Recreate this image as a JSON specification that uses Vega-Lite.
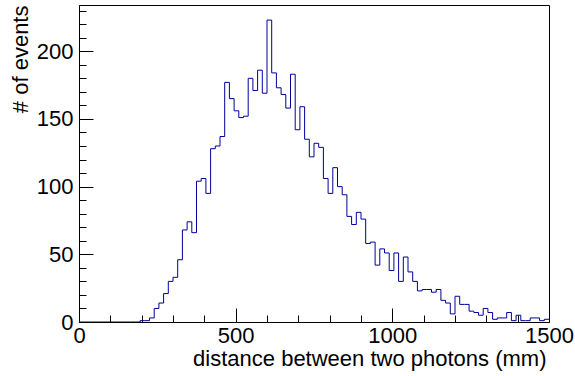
{
  "$schema": "https://vega.github.io/schema/vega-lite/v6.json",
  "width": 470,
  "height": 317,
  "autosize": {"type": "none"},
  "padding": {"left": 79, "top": 5, "right": 26, "bottom": 54},
  "background": "white",
  "config": {
    "view": {"stroke": "black", "strokeWidth": 1},
    "font": "Liberation Sans",
    "axis": {
      "labelFont": "Liberation Sans",
      "titleFont": "Liberation Sans",
      "labelFontSize": 22,
      "titleFontSize": 22,
      "titleFontWeight": "normal",
      "labelColor": "black",
      "titleColor": "black",
      "domainColor": "black",
      "tickColor": "black",
      "grid": false
    }
  },
  "data": {
    "values": [
      {"x": 0, "n": 0}, {"x": 15, "n": 0}, {"x": 30, "n": 0}, {"x": 45, "n": 0}, {"x": 60, "n": 0},
      {"x": 75, "n": 0}, {"x": 90, "n": 0}, {"x": 105, "n": 0}, {"x": 120, "n": 0}, {"x": 135, "n": 0},
      {"x": 150, "n": 0}, {"x": 165, "n": 0}, {"x": 180, "n": 0}, {"x": 195, "n": 1}, {"x": 210, "n": 1},
      {"x": 225, "n": 3}, {"x": 240, "n": 10}, {"x": 255, "n": 14}, {"x": 270, "n": 21}, {"x": 285, "n": 30},
      {"x": 300, "n": 33}, {"x": 315, "n": 46}, {"x": 330, "n": 68}, {"x": 345, "n": 74}, {"x": 360, "n": 66},
      {"x": 375, "n": 104}, {"x": 390, "n": 106}, {"x": 405, "n": 95}, {"x": 420, "n": 128}, {"x": 435, "n": 130},
      {"x": 450, "n": 137}, {"x": 465, "n": 177}, {"x": 480, "n": 165}, {"x": 495, "n": 156}, {"x": 510, "n": 151},
      {"x": 525, "n": 152}, {"x": 540, "n": 180}, {"x": 555, "n": 171}, {"x": 570, "n": 186}, {"x": 585, "n": 169},
      {"x": 600, "n": 223}, {"x": 615, "n": 184}, {"x": 630, "n": 173}, {"x": 645, "n": 168}, {"x": 660, "n": 158},
      {"x": 675, "n": 183}, {"x": 690, "n": 142}, {"x": 705, "n": 159}, {"x": 720, "n": 135}, {"x": 735, "n": 122},
      {"x": 750, "n": 132}, {"x": 765, "n": 129}, {"x": 780, "n": 106}, {"x": 795, "n": 95}, {"x": 810, "n": 114},
      {"x": 825, "n": 100}, {"x": 840, "n": 94}, {"x": 855, "n": 78}, {"x": 870, "n": 72}, {"x": 885, "n": 81},
      {"x": 900, "n": 76}, {"x": 915, "n": 58}, {"x": 930, "n": 59}, {"x": 945, "n": 42}, {"x": 960, "n": 54},
      {"x": 975, "n": 51}, {"x": 990, "n": 38}, {"x": 1005, "n": 51}, {"x": 1020, "n": 30}, {"x": 1035, "n": 48},
      {"x": 1050, "n": 37}, {"x": 1065, "n": 30}, {"x": 1080, "n": 23}, {"x": 1095, "n": 24}, {"x": 1110, "n": 24},
      {"x": 1125, "n": 22}, {"x": 1140, "n": 24}, {"x": 1155, "n": 16}, {"x": 1170, "n": 14}, {"x": 1185, "n": 6},
      {"x": 1200, "n": 19}, {"x": 1215, "n": 13}, {"x": 1230, "n": 13}, {"x": 1245, "n": 8}, {"x": 1260, "n": 7},
      {"x": 1275, "n": 5}, {"x": 1290, "n": 10}, {"x": 1305, "n": 7}, {"x": 1320, "n": 2}, {"x": 1335, "n": 3},
      {"x": 1350, "n": 3}, {"x": 1365, "n": 7}, {"x": 1380, "n": 1}, {"x": 1395, "n": 5}, {"x": 1410, "n": 1},
      {"x": 1425, "n": 1}, {"x": 1440, "n": 3}, {"x": 1455, "n": 3}, {"x": 1470, "n": 1}, {"x": 1485, "n": 2},
      {"x": 1500, "n": 2}
    ]
  },
  "mark": {"type": "line", "interpolate": "step-after", "color": "#000099", "strokeWidth": 1, "clip": true},
  "encoding": {
    "x": {
      "field": "x",
      "type": "quantitative",
      "scale": {"domain": [0, 1500], "nice": false, "zero": false},
      "axis": {
        "values": [0, 100, 200, 300, 400, 500, 600, 700, 800, 900, 1000, 1100, 1200, 1300, 1400, 1500],
        "labelExpr": "datum.value % 500 === 0 ? datum.label : ''",
        "format": "d",
        "tickSize": {"condition": {"test": "datum.value % 500 === 0", "value": -14}, "value": -7},
        "labelPadding": 17,
        "labelFlush": false,
        "labelOverlap": false,
        "title": "distance between two photons (mm)",
        "titleAnchor": "end",
        "titleAlign": "right",
        "titleBaseline": "alphabetic",
        "titleX": 467,
        "titleY": 43
      }
    },
    "y": {
      "field": "n",
      "type": "quantitative",
      "scale": {"domain": [0, 234.15], "nice": false},
      "axis": {
        "values": [0, 10, 20, 30, 40, 50, 60, 70, 80, 90, 100, 110, 120, 130, 140, 150, 160, 170, 180, 190, 200, 210, 220, 230],
        "labelExpr": "datum.value % 50 === 0 ? datum.label : ''",
        "format": "d",
        "tickSize": {"condition": {"test": "datum.value % 50 === 0", "value": -14}, "value": -7},
        "labelPadding": 20,
        "labelFlush": false,
        "labelOverlap": false,
        "title": "# of events",
        "titleAnchor": "end",
        "titlePadding": 4
      }
    }
  }
}
